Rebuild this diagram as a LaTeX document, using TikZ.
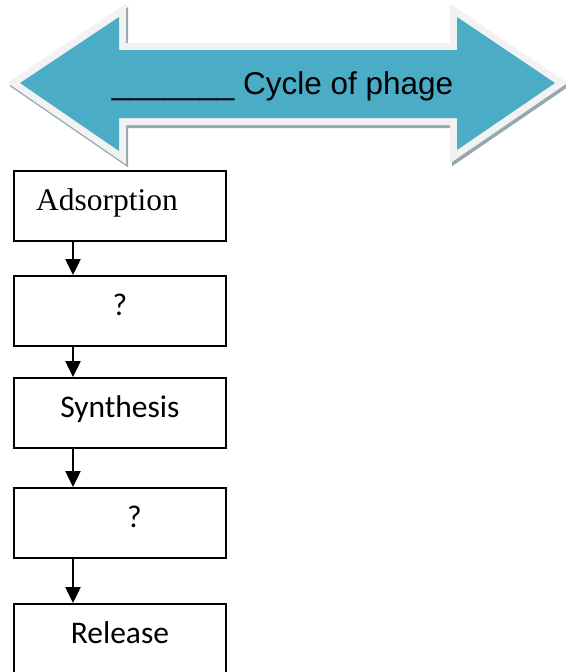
\documentclass[tikz,border=0pt]{standalone}
\usepackage{fontspec}
\newfontfamily\arialfont{Liberation Sans}
\newfontfamily\timesfont{Liberation Serif}
\newfontfamily\calibrifont{Carlito}
\usetikzlibrary{arrows.meta}
\definecolor{arrowblue}{HTML}{4BACC6}
\definecolor{rimgrey}{HTML}{F2F2F2}
\definecolor{shadowgrey}{HTML}{93A9AF}

\tikzset{stepbox/.style={draw, rectangle, line width=1.8pt, anchor=north west, minimum width=212pt, minimum height=70pt, inner sep=0pt, text height=18pt, text depth=8pt, font=\calibrifont\fontsize{31.5}{36}\selectfont},
flow/.style={line width=2.5pt, -{Triangle[width=15pt,length=16pt]}}}

\newcommand\cyclearrow{(20,83) -- (119,17) -- (119,50) -- (457,50) -- (457,17) -- (555,83) -- (457,150) -- (457,118) -- (119,118) -- (119,151) -- cycle}

\begin{document}
\begin{tikzpicture}[x=1pt, y=-1pt]
				\useasboundingbox (0,0) rectangle (565,672);
				% double arrow with its rim and shadow
				\draw[shadowgrey, fill=shadowgrey, line width=14pt, shift={(2,3)}] \cyclearrow;
				\draw[rimgrey, line width=14pt] \cyclearrow;
				\fill[arrowblue] \cyclearrow;
				\node[font=\arialfont\fontsize{31.5}{36}\selectfont, anchor=base east, inner sep=0pt] (title) at (453.5,94) {\_\_\_\_\_\_\_ Cycle of phage};
				% steps
				\node[stepbox, font=\timesfont\fontsize{31.5}{36}\selectfont] (b1) at (13,170) {Adsorption\hspace*{26pt}};
				\node[stepbox] (b2) at (13,275) {?};
				\node[stepbox] (b3) at (13,377) {Synthesis};
				\node[stepbox] (b4) at (13,487) {\hspace*{29pt}?};
				\node[stepbox] (b5) at (13,603) {Release};
				\coordinate (spine) at (73,0);
				\foreach \a/\b in {b1/b2,b2/b3,b3/b4,b4/b5}
					\draw[flow] (\a.south -| spine) -- (\b.north -| spine);
			\end{tikzpicture}
\end{document}
